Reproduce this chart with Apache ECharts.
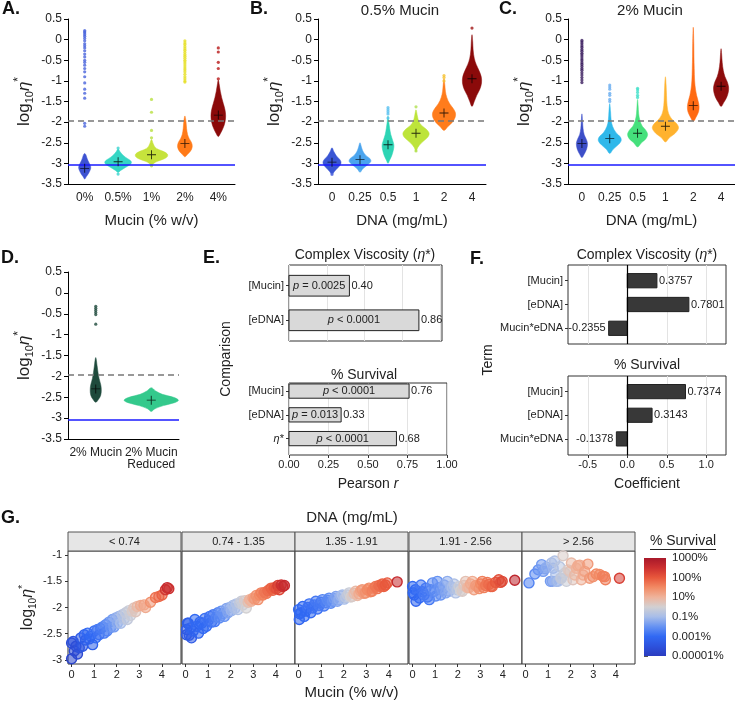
<!DOCTYPE html>
<html><head><meta charset="utf-8">
<script src="https://cdn.jsdelivr.net/npm/echarts@6/dist/echarts.min.js"></script>
<style>html,body{margin:0;padding:0;background:#fff}#c{width:735px;height:701px}</style>
</head><body><div id="c"></div>
<script>
const FONT = 'Liberation Sans, Arial, Helvetica, sans-serif';

// ---------- Panel A : Mucin ----------
const catsA = ['0%', '0.5%', '1%', '2%', '4%'];
const meansA = [-3.12, -2.96, -2.79, -2.52, -1.83];
const violinsA = [
  [[-3.38,0],[-3.32,0.05],[-3.25,0.11],[-3.15,0.17],[-3.08,0.18],[-3.0,0.14],[-2.92,0.09],[-2.85,0.06],[-2.8,0.04],[-2.76,0]],
  [[-3.22,0],[-3.17,0.08],[-3.1,0.22],[-3.03,0.36],[-2.97,0.4],[-2.92,0.35],[-2.85,0.22],[-2.78,0.12],[-2.72,0.06],[-2.65,0]],
  [[-3.03,0],[-2.97,0.12],[-2.9,0.35],[-2.84,0.47],[-2.78,0.48],[-2.72,0.38],[-2.66,0.2],[-2.6,0.1],[-2.52,0.05],[-2.42,0]],
  [[-2.84,0],[-2.78,0.08],[-2.7,0.17],[-2.6,0.22],[-2.5,0.2],[-2.4,0.13],[-2.3,0.08],[-2.15,0.05],[-2.0,0.035],[-1.85,0]],
  [[-2.35,0],[-2.28,0.06],[-2.15,0.14],[-2.0,0.2],[-1.85,0.22],[-1.7,0.2],[-1.55,0.15],[-1.4,0.1],[-1.25,0.06],[-1.1,0.03],[-0.98,0]]
];
const outliersA = [
  [0.22,0.19,0.16,0.12,0.08,0.03,-0.03,-0.1,-0.15,-0.2,-0.27,-0.35,-0.42,-0.5,-0.55,-0.62,-0.7,-0.78,-0.9,-1.05,-1.2,-1.3,-1.42,-2.03,-2.1],
  [-3.26,-2.63],
  [-1.45,-1.76,-2.2,-2.38,-3.06],
  [-0.03,-0.08,-0.12,-0.17,-0.22,-0.26,-0.31,-0.36,-0.4,-0.45,-0.5,-0.54,-0.59,-0.64,-0.69,-0.73,-0.78,-0.84,-0.9,-0.95,-1.0,-1.03],
  [-0.2,-0.3,-0.55,-0.7,-0.95]
];
const fillA = ['#3d52d2', '#35d6c4', '#c6e33c', '#ff7a18', '#8b0a0a'];
const outColA = ['#4a64dc', '#3ad3d0', '#b8e040', '#e6e025', '#b81818'];

// ---------- Panel B : 0.5% Mucin ----------
const catsB = ['0', '0.25', '0.5', '1', '2', '4'];
const meansB = [-2.97, -2.91, -2.55, -2.27, -1.78, -0.95];
const violinsB = [
  [[-3.28,0],[-3.2,0.08],[-3.1,0.22],[-3.02,0.31],[-2.96,0.32],[-2.9,0.27],[-2.82,0.16],[-2.72,0.07],[-2.62,0]],
  [[-3.2,0],[-3.12,0.12],[-3.02,0.3],[-2.95,0.39],[-2.88,0.35],[-2.8,0.2],[-2.7,0.1],[-2.6,0.05],[-2.5,0]],
  [[-3.0,0],[-2.92,0.06],[-2.8,0.14],[-2.65,0.2],[-2.55,0.21],[-2.45,0.17],[-2.3,0.1],[-2.15,0.06],[-2.0,0.03],[-1.85,0]],
  [[-2.72,0],[-2.62,0.06],[-2.5,0.2],[-2.38,0.4],[-2.28,0.47],[-2.18,0.38],[-2.08,0.2],[-1.98,0.1],[-1.85,0.05],[-1.7,0]],
  [[-2.2,0],[-2.1,0.15],[-2.0,0.3],[-1.88,0.4],[-1.78,0.41],[-1.68,0.34],[-1.55,0.2],[-1.4,0.1],[-1.25,0.05],[-1.1,0.03],[-0.95,0]],
  [[-1.62,0],[-1.5,0.08],[-1.35,0.17],[-1.2,0.28],[-1.05,0.34],[-0.9,0.33],[-0.75,0.25],[-0.6,0.15],[-0.45,0.08],[-0.25,0.04],[-0.05,0.025],[0.12,0]]
];
const outliersB = [[-3.27],[-3.18],[-1.65,-1.7,-1.75,-1.8,-1.9],[-1.63,-2.7],[-0.87,-0.92,-1.0],[0.28]];
const fillB = ['#3a56d4', '#4aa4ee', '#2dd4b4', '#bde43a', '#ff7c1c', '#8b0a0a'];
const outColB = ['#5a6ee0', '#5ab0f0', '#58c0f0', '#b0e050', '#f5c030', '#a01515'];

// ---------- Panel C : 2% Mucin ----------
const catsC = ['0', '0.25', '0.5', '1', '2', '4'];
const meansC = [-2.52, -2.4, -2.27, -2.1, -1.6, -1.13];
const violinsC = [
  [[-2.86,0],[-2.78,0.08],[-2.65,0.17],[-2.52,0.2],[-2.42,0.16],[-2.3,0.08],[-2.15,0.04],[-2.0,0.025],[-1.8,0]],
  [[-2.76,0],[-2.66,0.12],[-2.55,0.3],[-2.45,0.41],[-2.36,0.38],[-2.25,0.22],[-2.1,0.1],[-1.95,0.05],[-1.75,0.03],[-1.55,0]],
  [[-2.6,0],[-2.5,0.14],[-2.4,0.3],[-2.3,0.36],[-2.2,0.3],[-2.1,0.17],[-1.95,0.08],[-1.8,0.04],[-1.6,0.02],[-1.45,0]],
  [[-2.48,0],[-2.38,0.14],[-2.27,0.35],[-2.15,0.47],[-2.05,0.42],[-1.95,0.26],[-1.8,0.12],[-1.6,0.06],[-1.35,0.04],[-1.1,0.025],[-0.9,0]],
  [[-1.98,0],[-1.88,0.1],[-1.75,0.19],[-1.62,0.21],[-1.5,0.18],[-1.35,0.12],[-1.2,0.08],[-1.0,0.05],[-0.7,0.035],[-0.4,0.025],[-0.1,0.02],[0.3,0]],
  [[-1.62,0],[-1.52,0.1],[-1.4,0.2],[-1.27,0.26],[-1.15,0.27],[-1.02,0.22],[-0.9,0.14],[-0.75,0.08],[-0.55,0.04],[-0.35,0.02],[-0.22,0]]
];
const outliersC = [
  [-0.02,-0.06,-0.1,-0.15,-0.19,-0.24,-0.28,-0.33,-0.37,-0.42,-0.47,-0.51,-0.56,-0.6,-0.65,-0.7,-0.74,-0.8,-0.86,-0.92,-0.98,-1.04],
  [-1.1,-1.15,-1.2,-1.3,-1.35,-1.45,-1.5],
  [-1.18,-1.22,-1.28,-1.35,-1.4],
  [],
  [],
  []
];
const fillC = ['#3d4fc8', '#2fb8ea', '#45e07c', '#ffb22e', '#ff6a12', '#8d0c0c'];
const outColC = ['#3b1e5f', '#6aaef0', '#40e0c8', '#ffb22e', '#ff6a12', '#8d0c0c'];

// ---------- Panel D ----------
const catsD = ['2% Mucin', '2% Mucin\nReduced'];
const meansD = [-2.3, -2.57];
const violinsD = [
  [[-2.62,0],[-2.55,0.05],[-2.45,0.09],[-2.32,0.1],[-2.2,0.09],[-2.05,0.06],[-1.9,0.04],[-1.75,0.025],[-1.55,0]],
  [[-2.84,0],[-2.78,0.06],[-2.7,0.22],[-2.63,0.42],[-2.57,0.49],[-2.5,0.4],[-2.43,0.2],[-2.35,0.08],[-2.27,0]]
];
const outliersD = [[-0.32,-0.37,-0.42,-0.47,-0.52,-0.75], []];
const fillD = ['#1e4a3c', '#34c98c'];

// reference lines
const dashedRef = -1.96;
const blueRef = -3.03;

// ---------- Panel E : Pearson r ----------
const eTerms1 = ['[Mucin]', '[eDNA]'];
const eR1 = [0.40, 0.86];
const eP1 = ['= 0.0025', '< 0.0001'];
const eTerms2 = ['[Mucin]', '[eDNA]', 'η*'];
const eR2 = [0.76, 0.33, 0.68];
const eP2 = ['< 0.0001', '= 0.013', '< 0.0001'];

// ---------- Panel F : coefficients ----------
const fTerms = ['[Mucin]', '[eDNA]', 'Mucin*eDNA'];
const fCoef1 = [0.3757, 0.7801, -0.2355];
const fCoef2 = [0.7374, 0.3143, -0.1378];

// ---------- Panel G : [mucin, log10 eta*, survival scale position] ----------
const facetLabels = ['< 0.74', '0.74 - 1.35', '1.35 - 1.91', '1.91 - 2.56', '> 2.56'];
const g1 = [[0.00,-2.98,0.2],[0.00,-2.68,0.4],[0.07,-2.65,0.5],[0.12,-2.83,0.3],[0.19,-2.74,0.4],[0.26,-2.89,0.3],[0.34,-2.77,0.5],[0.41,-2.58,0.7],[0.49,-2.74,0.6],[0.56,-2.52,0.9],[0.62,-2.62,0.8],[0.71,-2.49,1.0],[0.78,-2.6,0.9],[0.85,-2.55,1.0],[0.93,-2.71,0.8],[1.00,-2.45,1.1],[1.07,-2.58,1.0],[1.15,-2.42,1.2],[1.22,-2.52,1.1],[1.29,-2.40,1.2],[1.37,-2.37,1.3],[1.44,-2.49,1.2],[1.51,-2.33,1.4],[1.57,-2.45,1.3],[1.66,-2.28,1.5],[1.73,-2.38,1.5],[1.81,-2.23,1.6],[1.88,-2.37,1.6],[1.96,-2.20,1.8],[2.03,-2.3,1.8],[2.10,-2.17,1.9],[2.18,-2.30,2.0],[2.25,-2.14,2.1],[2.33,-2.22,2.1],[2.40,-2.10,2.3],[2.47,-2.23,2.3],[2.54,-2.06,2.4],[2.62,-2.15,2.4],[2.69,-2.07,2.6],[2.76,-2.01,2.7],[2.84,-2.08,2.7],[2.91,-1.98,2.9],[3.06,-1.96,3.1],[3.21,-1.95,3.2],[3.28,-2.00,3.1],[3.50,-1.90,3.4],[3.72,-1.81,3.7],[3.87,-1.79,3.8],[4.01,-1.76,3.9],[4.16,-1.66,4.4],[4.24,-1.62,4.6],[4.31,-1.64,4.5]];
const g2 = [[0.04,-2.42,0.7],[0.04,-2.52,0.6],[0.08,-2.3,0.8],[0.12,-2.30,0.8],[0.16,-2.53,0.7],[0.22,-2.39,0.9],[0.26,-2.58,0.7],[0.34,-2.45,0.9],[0.41,-2.23,1.0],[0.49,-2.36,1.0],[0.57,-2.49,0.9],[0.64,-2.28,1.0],[0.71,-2.30,1.0],[0.78,-2.4,1.0],[0.85,-2.21,1.1],[0.93,-2.36,1.0],[1.00,-2.25,1.1],[1.07,-2.17,1.1],[1.15,-2.28,1.1],[1.22,-2.14,1.2],[1.29,-2.27,1.2],[1.36,-2.18,1.3],[1.43,-2.10,1.3],[1.50,-2.2,1.4],[1.57,-2.07,1.5],[1.65,-2.12,1.5],[1.72,-2.17,1.5],[1.81,-2.02,1.7],[1.88,-2.1,1.7],[1.96,-2.00,1.8],[2.03,-2.06,1.9],[2.10,-1.96,2.0],[2.18,-2.02,2.0],[2.25,-1.93,2.1],[2.32,-2.04,2.1],[2.40,-1.92,2.3],[2.47,-1.88,2.4],[2.54,-1.95,2.4],[2.62,-1.87,2.6],[2.69,-2.01,2.5],[2.77,-1.9,2.8],[2.84,-1.85,3.0],[2.91,-1.88,3.0],[2.99,-1.82,3.2],[3.06,-1.84,3.3],[3.13,-1.77,3.4],[3.21,-1.85,3.4],[3.28,-1.76,3.5],[3.35,-1.72,3.6],[3.43,-1.76,3.6],[3.50,-1.71,3.7],[3.58,-1.73,3.7],[3.65,-1.68,3.8],[3.72,-1.66,3.8],[3.79,-1.63,3.9],[3.87,-1.67,3.9],[3.94,-1.62,4.0],[4.02,-1.64,4.1],[4.09,-1.58,4.3],[4.16,-1.66,4.2],[4.24,-1.57,4.5],[4.31,-1.6,4.5],[4.38,-1.58,4.6]];
const g3 = [[0.00,-2.04,1.0],[0.03,-2.23,0.9],[0.05,-2.12,1.0],[0.10,-2.10,1.0],[0.18,-1.98,1.0],[0.25,-2.17,1.0],[0.32,-2.07,1.0],[0.40,-2.0,1.1],[0.47,-1.93,1.1],[0.54,-2.10,1.0],[0.62,-2.01,1.1],[0.69,-1.95,1.1],[0.76,-1.88,1.2],[0.84,-2.03,1.1],[0.91,-1.96,1.2],[0.98,-1.9,1.2],[1.06,-1.85,1.3],[1.13,-1.97,1.2],[1.21,-1.91,1.3],[1.28,-1.86,1.4],[1.35,-1.82,1.4],[1.43,-1.92,1.4],[1.50,-1.88,1.5],[1.58,-1.83,1.6],[1.65,-1.79,1.7],[1.72,-1.88,1.7],[1.79,-1.85,1.8],[1.87,-1.78,1.9],[1.94,-1.76,2.0],[2.02,-1.84,2.0],[2.09,-1.81,2.2],[2.17,-1.76,2.3],[2.24,-1.72,2.4],[2.31,-1.8,2.5],[2.38,-1.79,2.6],[2.46,-1.73,2.8],[2.53,-1.69,2.9],[2.61,-1.77,2.9],[2.68,-1.74,3.1],[2.75,-1.68,3.2],[2.82,-1.66,3.3],[2.90,-1.73,3.3],[2.97,-1.72,3.4],[3.05,-1.66,3.5],[3.12,-1.63,3.5],[3.19,-1.7,3.5],[3.26,-1.69,3.6],[3.34,-1.63,3.6],[3.41,-1.60,3.7],[3.49,-1.64,3.7],[3.56,-1.58,3.8],[3.64,-1.6,3.8],[3.71,-1.55,3.9],[3.78,-1.6,3.9],[3.85,-1.57,4.0],[3.93,-1.53,4.0],[4.37,-1.51,4.6]];
const g4 = [[0.00,-1.60,1.0],[0.02,-1.72,1.0],[0.07,-1.76,1.0],[0.12,-1.66,1.0],[0.15,-1.88,0.9],[0.22,-1.69,1.1],[0.30,-1.82,1.0],[0.37,-1.57,1.2],[0.44,-1.7,1.1],[0.51,-1.76,1.2],[0.59,-1.63,1.2],[0.66,-1.8,1.2],[0.74,-1.85,1.2],[0.81,-1.66,1.3],[0.88,-1.53,1.4],[0.96,-1.69,1.4],[1.03,-1.78,1.4],[1.10,-1.50,1.5],[1.18,-1.62,1.5],[1.25,-1.76,1.5],[1.32,-1.67,1.6],[1.40,-1.57,1.7],[1.47,-1.72,1.7],[1.54,-1.50,1.8],[1.62,-1.69,1.8],[1.69,-1.6,1.9],[1.76,-1.62,2.0],[1.84,-1.55,2.1],[1.91,-1.72,2.1],[1.98,-1.66,2.2],[2.06,-1.60,2.4],[2.13,-1.68,2.5],[2.21,-1.69,2.6],[2.28,-1.58,2.7],[2.35,-1.50,2.8],[2.43,-1.62,2.9],[2.50,-1.62,3.0],[2.57,-1.55,3.1],[2.65,-1.50,3.1],[2.72,-1.66,3.2],[2.80,-1.58,3.3],[2.87,-1.60,3.3],[2.95,-1.64,3.4],[3.02,-1.55,3.5],[3.09,-1.50,3.6],[3.16,-1.62,3.6],[3.24,-1.58,3.7],[3.31,-1.52,3.7],[3.38,-1.56,3.8],[3.46,-1.60,3.8],[3.53,-1.60,3.9],[3.68,-1.52,4.0],[3.82,-1.47,4.1],[3.90,-1.52,4.1],[3.97,-1.50,4.2],[4.53,-1.48,4.7]];
const g5 = [[0.15,-1.53,1.3],[0.41,-1.36,1.4],[0.56,-1.28,1.5],[0.71,-1.18,1.6],[0.78,-1.31,1.6],[0.86,-1.26,1.7],[0.93,-1.23,1.8],[1.10,-1.50,1.6],[1.15,-1.15,2.0],[1.18,-1.5,1.7],[1.22,-1.25,1.9],[1.29,-1.11,2.1],[1.34,-1.37,2.0],[1.37,-1.5,1.9],[1.44,-1.5,2.0],[1.51,-1.22,2.2],[1.55,-1.44,2.2],[1.59,-1.44,2.3],[1.66,-1.01,2.6],[1.74,-1.34,2.4],[1.81,-1.50,2.4],[1.88,-1.28,2.6],[1.96,-1.31,2.7],[2.03,-1.15,2.9],[2.10,-1.47,2.7],[2.18,-1.38,2.9],[2.25,-1.25,3.0],[2.32,-1.2,3.1],[2.40,-1.19,3.1],[2.47,-1.47,3.0],[2.55,-1.38,3.1],[2.62,-1.31,3.2],[2.76,-1.17,3.3],[2.84,-1.44,3.3],[2.99,-1.41,3.4],[3.13,-1.36,3.5],[3.28,-1.37,3.5],[3.42,-1.4,3.6],[3.50,-1.41,3.6],[3.54,-1.47,3.6],[4.16,-1.44,4.3]];
const facets = [g1, g2, g3, g4, g5];
const survTicks = ['0.00001%', '0.001%', '0.1%', '10%', '100%', '1000%'];
const survColors = ['#2b3cbf','#2d52dd','#3169f3','#6692f2','#a7bde9','#d2d0d2','#efb39b','#f28a64','#e8583c','#cc3030','#a8182a'];

// ================= layout =================
const grids = [
  {left:68, top:19, width:167, height:165},   // 0 A
  {left:318, top:19, width:168, height:165},  // 1 B
  {left:568, top:19, width:167, height:165},  // 2 C
  {left:68, top:272, width:111, height:167},  // 3 D
  {left:289, top:265, width:153, height:76, show:true, borderColor:'#333', borderWidth:1, backgroundColor:'#fff'}, // 4 E1
  {left:289, top:383, width:158, height:72, show:true, borderColor:'#333', borderWidth:1, backgroundColor:'#fff'}, // 5 E2
  {left:568, top:265, width:158, height:79, show:true, borderColor:'#333', borderWidth:1, backgroundColor:'#fff'}, // 6 F1
  {left:568, top:376, width:158, height:79, show:true, borderColor:'#333', borderWidth:1, backgroundColor:'#fff'}  // 7 F2
];
const facetLefts = [68, 182, 295, 409, 522];
facetLefts.forEach(l => grids.push({left:l, top:551, width:113, height:113, show:true, borderColor:'#333', borderWidth:1, backgroundColor:'#fff'})); // 8-12
facetLefts.forEach(l => grids.push({left:l, top:532, width:113, height:19, show:true, borderColor:'#555', borderWidth:1, backgroundColor:'#e6e6e6'})); // 13-17
grids.push({left:644, top:558, width:22, height:98}); // 18 colorbar

const xAxes = [], yAxes = [], series = [];
const axisTxt = {fontSize:12, color:'#222', fontFamily:FONT};
const etaName = '{a|log}{s|10}{e|η}{p|*}';
function etaRich(big, small) {
  return {
    a:{fontSize:big, color:'#222', fontFamily:FONT, lineHeight:big+5},
    s:{fontSize:small, color:'#222', fontFamily:FONT, verticalAlign:'bottom', lineHeight:small+1},
    e:{fontSize:big, color:'#222', fontFamily:FONT, fontStyle:'italic', lineHeight:big+5},
    p:{fontSize:small+1, color:'#222', fontFamily:FONT, verticalAlign:'top', lineHeight:small+1}
  };
}

function violinPanel(gi, cats, means, profiles, outliers, fills, outCols, xName) {
  xAxes.push({gridIndex:gi, type:'category', data:cats,
    axisLine:{onZero:false, lineStyle:{color:'#000', width:1}}, axisTick:{show:false},
    axisLabel:Object.assign({margin:8, lineHeight:12, interval:0}, axisTxt),
    name:xName, nameLocation:'middle', nameGap:29, nameTextStyle:{fontSize:15, color:'#222', fontFamily:FONT}});
  yAxes.push({gridIndex:gi, type:'value', min:-3.5, max:0.5, interval:0.5,
    axisLine:{show:true, onZero:false, lineStyle:{color:'#000', width:1}},
    axisTick:{show:true, length:4, lineStyle:{color:'#000'}}, splitLine:{show:false},
    axisLabel:Object.assign({margin:6}, axisTxt),
    name:etaName, nameLocation:'middle', nameGap:33, nameRotate:90,
    nameTextStyle:{rich:etaRich(17, 11)}});
  series.push({
    type:'custom', xAxisIndex:gi, yAxisIndex:gi, z:2,
    data: means.map((m, i) => [i, m]), encode:{x:0, y:1},
    renderItem: (params, api) => {
      const i = params.dataIndex, prof = profiles[i];
      const band = Math.abs(api.coord([1, 0])[0] - api.coord([0, 0])[0]);
      const pts = [];
      for (let k = 0; k < prof.length; k++) { const c = api.coord([i, prof[k][0]]); pts.push([c[0] + prof[k][1] * band, c[1]]); }
      for (let k = prof.length - 2; k >= 1; k--) { const c = api.coord([i, prof[k][0]]); pts.push([c[0] - prof[k][1] * band, c[1]]); }
      return {type:'polygon', shape:{points:pts, smooth:0.35}, style:{fill:fills[i], stroke:fills[i], lineWidth:0.5}};
    }
  });
  const od = [];
  outliers.forEach((arr, i) => arr.forEach(y => od.push({value:[i, y], itemStyle:{color:outCols[i]}})));
  series.push({type:'scatter', xAxisIndex:gi, yAxisIndex:gi, z:3, symbolSize:3.2, data:od, silent:true});
  series.push({type:'scatter', xAxisIndex:gi, yAxisIndex:gi, z:6, silent:true,
    symbol:'path://M9,0h2v20h-2z M0,9h20v2h-20z', symbolSize:9, itemStyle:{color:'#000'},
    data: means.map((m, i) => [i, m]),
    markLine:{silent:true, symbol:'none', label:{show:false}, z:5, animation:false,
      data:[
        {yAxis:dashedRef, lineStyle:{type:[6,4], color:'#777', width:1.5}},
        {yAxis:blueRef, lineStyle:{type:'solid', color:'#1a1aff', width:1.5}}
      ]}
  });
}
violinPanel(0, catsA, meansA, violinsA, outliersA, fillA, outColA, 'Mucin (% w/v)');
violinPanel(1, catsB, meansB, violinsB, outliersB, fillB, outColB, 'DNA (mg/mL)');
violinPanel(2, catsC, meansC, violinsC, outliersC, fillC, outColC, 'DNA (mg/mL)');
violinPanel(3, catsD, meansD, violinsD, outliersD, fillD, fillD, '');

// ---- bar panels ----
const smallTxt = {fontSize:11, color:'#222', fontFamily:FONT};
function termLabel(t) { return t === 'η*' ? '{i|η}*' : t; }
function barPanel(gi, terms, vals, pTexts, xMin, xMax, yMin, yMax, isF, showX, xName) {
  const cv = terms.map((t, i) => i + 1);
  xAxes.push({gridIndex:gi, type:'value', min:xMin, max:xMax, interval:0.25,
    axisLine:{show:false, onZero:false},
    axisTick:{show:showX, length:3, lineStyle:{color:'#333'}, customValues: isF ? [-0.5, 0, 0.5, 1] : [0, 0.25, 0.5, 0.75, 1]},
    axisLabel:Object.assign({show:showX, margin:4, customValues: isF ? [-0.5, 0, 0.5, 1] : [0, 0.25, 0.5, 0.75, 1],
      formatter: v => isF ? v.toFixed(1) : v.toFixed(2)}, smallTxt),
    splitLine:{show:true, lineStyle:{color:'#e3e3e3', width:1}},
    name: showX ? xName : '', nameLocation:'middle', nameGap:22,
    nameTextStyle:{fontSize:14, color:'#222', fontFamily:FONT, rich:{i:{fontSize:14, fontStyle:'italic', color:'#222', fontFamily:FONT}}}});
  yAxes.push({gridIndex:gi, type:'value', min:yMin, max:yMax, inverse:true,
    axisLine:{show:false, onZero:false}, splitLine:{show:false},
    axisTick:{show:true, length:3, lineStyle:{color:'#333'}, customValues:cv},
    axisLabel:Object.assign({margin:5, customValues:cv, formatter: v => termLabel(terms[Math.round(v) - 1]),
      rich:{i:{fontStyle:'italic', fontSize:11, color:'#222', fontFamily:FONT}}}, smallTxt)});
  series.push({
    type:'custom', xAxisIndex:gi, yAxisIndex:gi, z:3,
    data: vals.map((v, i) => [v, i + 1]), encode:{x:0, y:1},
    markLine: isF ? {silent:true, symbol:'none', label:{show:false}, animation:false,
      data:[{xAxis:0, lineStyle:{type:'solid', color:'#000', width:1.2}}]} : undefined,
    renderItem: (params, api) => {
      const v = api.value(0), y = api.value(1), i = params.dataIndex;
      const p0 = api.coord([0, y]), p1 = api.coord([v, y]);
      const h = api.size([0, 0.6])[1];
      const x0 = Math.min(p0[0], p1[0]), w = Math.abs(p1[0] - p0[0]);
      const ch = [{type:'rect', shape:{x:x0, y:p0[1] - h / 2, width:w, height:h},
        style:{fill: isF ? '#383838' : '#d9d9d9', stroke:'#222', lineWidth:1}}];
      ch.push({type:'text', x: v >= 0 ? p1[0] + 2 : p1[0] - 3, y:p0[1],
        style:{text: isF ? v.toFixed(4) : v.toFixed(2), align: v >= 0 ? 'left' : 'right', verticalAlign:'middle',
          fontSize:11, fontFamily:FONT, fill:'#222'}});
      if (pTexts) ch.push({type:'text', x:(p0[0] + p1[0]) / 2, y:p0[1],
        style:{text:'{i|p} ' + pTexts[i], align:'center', verticalAlign:'middle', fontSize:11, fontFamily:FONT, fill:'#222',
          rich:{i:{fontStyle:'italic', fontSize:11, fontFamily:FONT, fill:'#222'}}}});
      return {type:'group', children:ch};
    }
  });
}
barPanel(4, eTerms1, eR1, eP1, 0, 1.013, 0.4, 2.6, false, false, '');
barPanel(5, eTerms2, eR2, eP2, 0, 1.0, 0.66, 3.69, false, true, 'Pearson {i|r}');
barPanel(6, fTerms, fCoef1, null, -0.75, 1.25, 0.34, 3.66, true, false, '');
barPanel(7, fTerms, fCoef2, null, -0.75, 1.25, 0.34, 3.68, true, true, 'Coefficient');

// ---- G facets ----
const gSeriesIdx = [];
facets.forEach((pts, f) => {
  const gi = 8 + f;
  xAxes.push({gridIndex:gi, type:'value', min:-0.16, max:4.85,
    axisLine:{show:false, onZero:false}, splitLine:{show:false},
    axisTick:{show:true, length:3, lineStyle:{color:'#333'}, customValues:[0, 1, 2, 3, 4]},
    axisLabel:Object.assign({margin:5, customValues:[0, 1, 2, 3, 4]}, smallTxt),
    name: f === 2 ? 'Mucin (% w/v)' : '', nameLocation:'middle', nameGap:21,
    nameTextStyle:{fontSize:15, color:'#222', fontFamily:FONT}});
  yAxes.push({gridIndex:gi, type:'value', min:-3.08, max:-0.92,
    axisLine:{show:false, onZero:false}, splitLine:{show:false},
    axisTick:{show:f === 0, length:3, lineStyle:{color:'#333'}, customValues:[-3, -2.5, -2, -1.5, -1]},
    axisLabel:Object.assign({show:f === 0, margin:6, customValues:[-3, -2.5, -2, -1.5, -1]}, smallTxt),
    name: f === 0 ? etaName : '', nameLocation:'middle', nameGap:30, nameRotate:90,
    nameTextStyle:{rich:etaRich(16, 10)}});
  gSeriesIdx.push(series.length);
  series.push({
    type:'custom', xAxisIndex:gi, yAxisIndex:gi, z:3,
    dimensions:['mucin', 'eta', 'surv'], encode:{x:0, y:1},
    data: pts,
    renderItem: (params, api) => {
      const c = api.coord([api.value(0), api.value(1)]);
      const col = api.visual('color');
      return {type:'circle', shape:{cx:c[0], cy:c[1], r:5},
        style:{fill:echarts.color.modifyAlpha(col, 0.55), stroke:col, lineWidth:1.4}};
    }
  });
});
// strips
for (let s = 0; s < 5; s++) {
  const gi = 13 + s;
  xAxes.push({gridIndex:gi, type:'value', min:0, max:1, show:false});
  yAxes.push({gridIndex:gi, type:'value', min:0, max:1, show:false});
}
// colorbar
xAxes.push({gridIndex:18, type:'value', min:0, max:1, show:false});
yAxes.push({gridIndex:18, type:'value', min:0, max:5, interval:1, position:'right',
  axisLine:{show:false}, splitLine:{show:false},
  axisTick:{show:true, length:4, lineStyle:{color:'#555'}},
  axisLabel:Object.assign({margin:6, formatter: v => survTicks[Math.round(v)]}, smallTxt, {fontSize:11.5})});
series.push({
  type:'custom', xAxisIndex:18, yAxisIndex:18, silent:true,
  data:[[0, 0]], encode:{x:0, y:1},
  renderItem: (params, api) => {
    const p0 = api.coord([0, 0]), p1 = api.coord([1, 5]);
    const stops = survColors.map((c, k) => ({offset:k / (survColors.length - 1), color:c}));
    return {type:'rect', shape:{x:p0[0], y:p1[1], width:p1[0] - p0[0], height:p0[1] - p1[1]},
      style:{fill:new echarts.graphic.LinearGradient(0, 1, 0, 0, stops)}};
  }
});

// ---- free texts ----
function txt(x, y, text, size, opts) {
  return Object.assign({type:'text', x:x, y:y, silent:true, z:100,
    style:Object.assign({text:text, fontSize:size, fontFamily:FONT, fill:'#222', align:'center', verticalAlign:'middle'}, (opts && opts.style) || {})},
    (opts && opts.el) || {});
}
const bold = {style:{fontWeight:'bold', align:'left', fill:'#111'}};
const etaRichT = {i:{fontStyle:'italic', fontSize:14, fontFamily:FONT, fill:'#222'}};
const graphics = [
  txt(2, 9, 'A.', 18, bold), txt(250, 9, 'B.', 18, bold), txt(499, 9, 'C.', 18, bold),
  txt(1, 258, 'D.', 18, bold), txt(203, 258, 'E.', 18, bold), txt(470, 259, 'F.', 18, bold),
  txt(1, 518, 'G.', 18, bold),
  txt(400, 11, '0.5% Mucin', 15), txt(650, 11, '2% Mucin', 15),
  txt(365, 255, 'Complex Viscosity ({i|η}*)', 14, {style:{rich:etaRichT}}),
  txt(647, 255, 'Complex Viscosity ({i|η}*)', 14, {style:{rich:etaRichT}}),
  txt(364, 375, '% Survival', 14), txt(647, 365, '% Survival', 14),
  txt(226, 359, 'Comparison', 14, {el:{rotation:Math.PI / 2}}),
  txt(488, 360, 'Term', 14, {el:{rotation:Math.PI / 2}}),
  txt(352, 518, 'DNA (mg/mL)', 15),
  txt(683, 541, '% Survival', 14),
  {type:'line', silent:true, z:100, shape:{x1:650, y1:549.5, x2:716, y2:549.5}, style:{stroke:'#222', lineWidth:1}}
];
facetLabels.forEach((t, s) => graphics.push(txt(facetLefts[s] + 56.5, 541.5, t, 11)));

const chart = echarts.init(document.getElementById('c'), null, {renderer:'canvas'});
chart.setOption({
  animation:false,
  backgroundColor:'#fff',
  textStyle:{fontFamily:FONT},
  grid:grids,
  xAxis:xAxes,
  yAxis:yAxes,
  visualMap:[{type:'continuous', show:false, dimension:2, min:0, max:5, seriesIndex:gSeriesIdx,
    inRange:{color:survColors}}],
  series:series,
  graphic:graphics
});
</script></body></html>
